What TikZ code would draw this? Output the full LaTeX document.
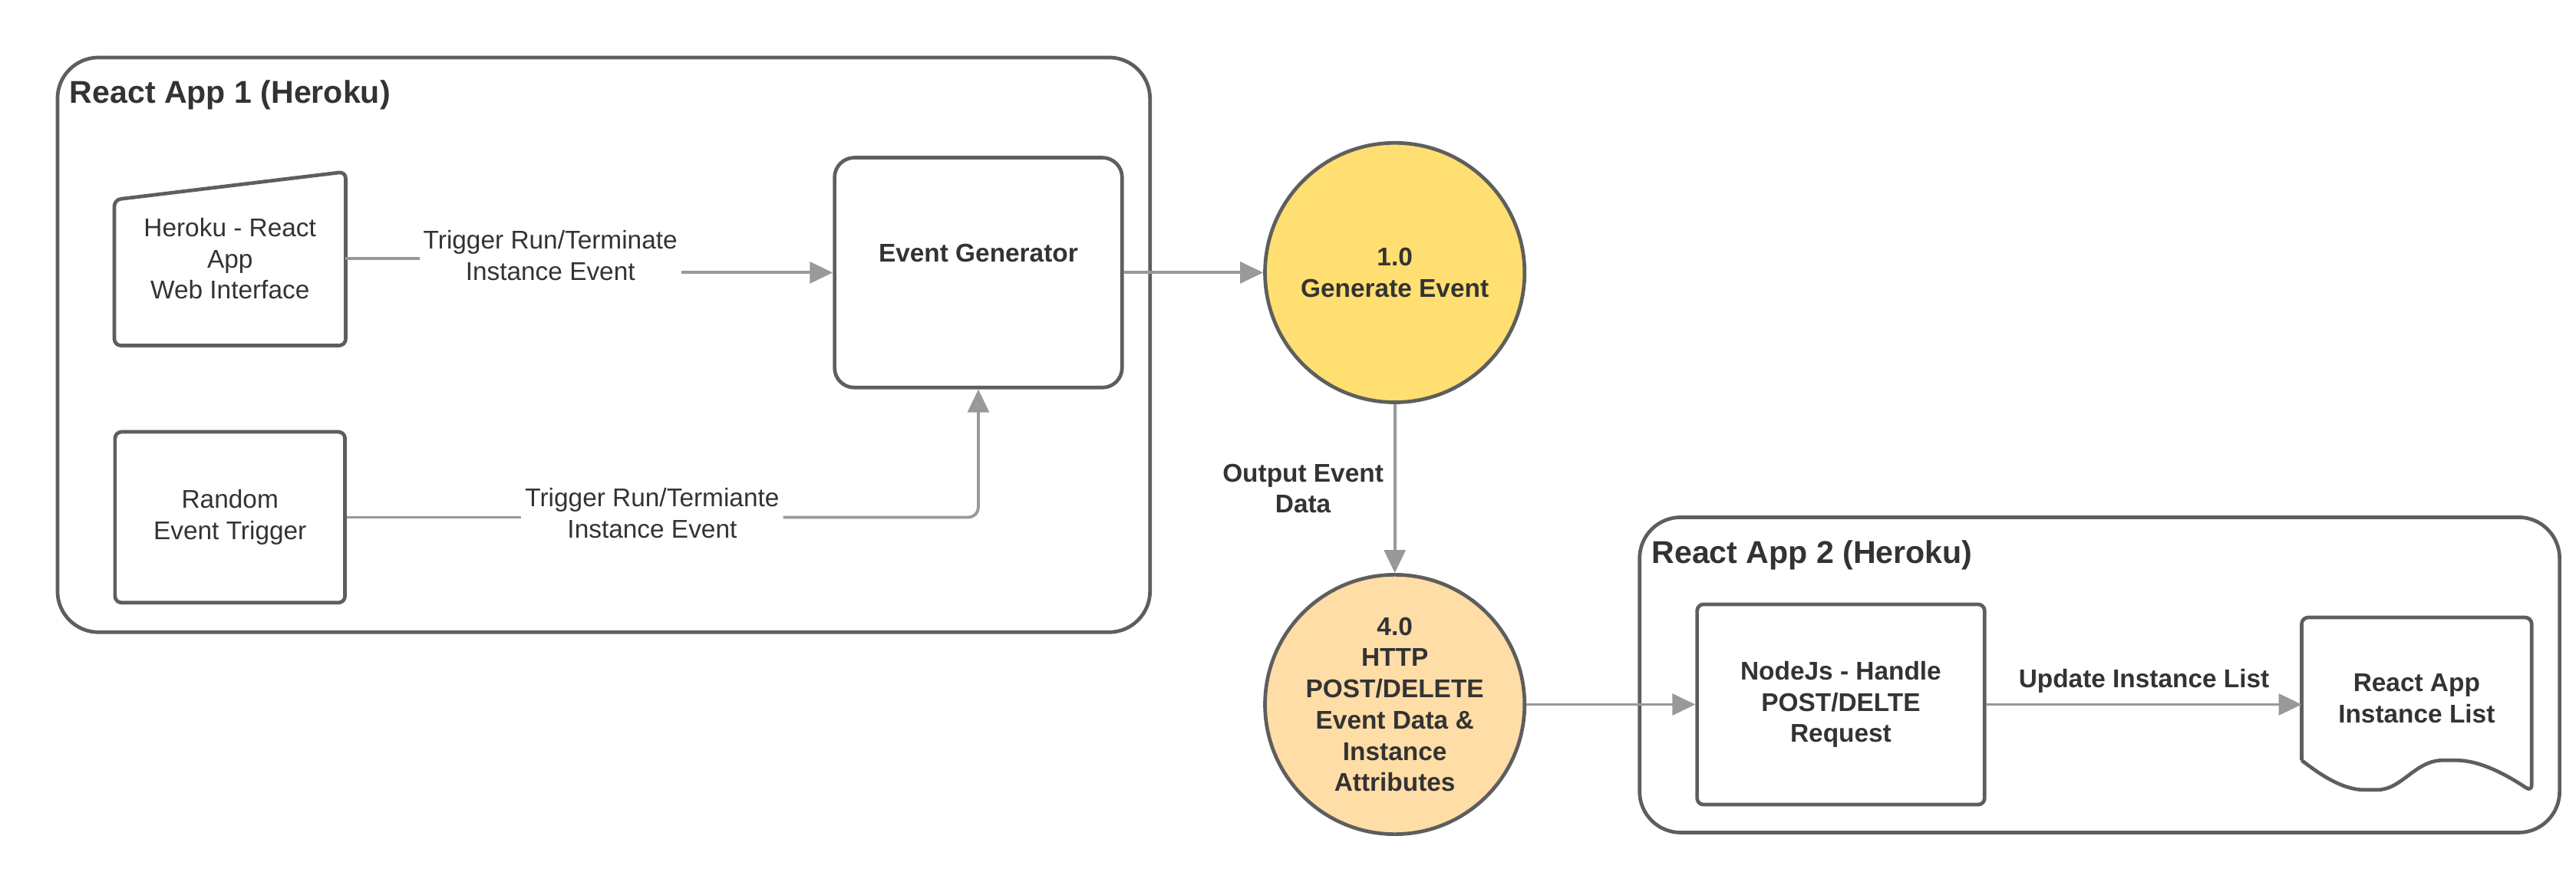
\documentclass[tikz,border=0pt]{standalone}
\usepackage{fontspec}
\setmainfont{Liberation Sans}
\usetikzlibrary{arrows.meta}
\usetikzlibrary{positioning}
\definecolor{edgegray}{HTML}{5E5E5E}
\definecolor{arrowgray}{HTML}{999999}
\definecolor{textgray}{HTML}{333333}
\definecolor{procyellow}{HTML}{FFDF71}
\definecolor{procorange}{HTML}{FFDDA6}
\tikzset{
  bodyfont/.style={font=\fontsize{7.8}{9.5}\selectfont},
  boldfont/.style={font=\bfseries\fontsize{7.8}{9.5}\selectfont},
  box/.style={draw=edgegray, line width=1.1pt, rounded corners=2pt, align=center, text=textgray},
  proc/.style={circle, draw=edgegray, line width=1.1pt, minimum size=79pt, inner sep=0pt, align=center, text=textgray, boldfont},
  group/.style={draw=edgegray, line width=1.1pt, rounded corners=12.5pt},
  grouptitle/.style={anchor=west, inner sep=2pt, text=textgray, font=\bfseries\fontsize{9.6}{11}\selectfont},
  lbl/.style={inner sep=1pt, align=center, text=textgray},
  line/.style={draw=arrowgray, line width=0.9pt},
  flow/.style={line, -{Triangle[length=7pt,width=6.5pt]}},
}
\begin{document}
\begin{tikzpicture}[x=0.5pt, y=-0.5pt, bodyfont]
    \useasboundingbox (0,0) rectangle (1568,543.2);
    % React App 1
    \draw[group] (35,35) rectangle (700,385);
    \node[grouptitle] (title1) at (38,58) {React App 1 (Heroku)};
    \node[minimum width=70pt, minimum height=52.5pt, align=center, text=textgray] (heroku) at (140,157.5) {Heroku - React\\App\\Web Interface};
    \draw[box] (heroku.south west) -- ([yshift=-8.5pt]heroku.north west) -- (heroku.north east) -- (heroku.south east) -- cycle;
    \node[box, minimum width=70pt, minimum height=52pt] (random) at (140,315) {Random\\Event Trigger};
    \node[box, rounded corners=6pt, minimum width=87.5pt, minimum height=70pt,
          label={[lbl, boldfont, yshift=6pt]center:Event Generator}] (evgen) at (595.5,166) {};
    % processes
    \node[proc, fill=procyellow] (gen) at (849,166) {1.0\\Generate Event};
    \node[proc, fill=procorange] (http) at (849,429) {4.0\\HTTP\\POST/DELETE\\Event Data \&\\Instance\\Attributes};
    % React App 2
    \draw[group] (998,315) rectangle (1558,507);
    \node[grouptitle] (title2) at (1001,338) {React App 2 (Heroku)};
    \node[box, minimum width=87.5pt, minimum height=61pt, boldfont] (nodejs) at (1120.5,429) {NodeJs - Handle\\POST/DELTE\\Request};
    \node[minimum width=70pt, minimum height=53pt, align=center, text=textgray, boldfont] (list) at (1471,425.5) {React App\\Instance List};
    \draw[box] (1401,463) -- (1401,376) -- (1541,376) -- (1541,482)
        .. controls (1520,468) and (1506,463) .. (1491,463)
        .. controls (1470,463) and (1462,481) .. (1443,481)
        .. controls (1425,481) and (1410,470) .. (1401,463);
    % connectors
    \node[lbl] (trig1) at (335,155.5) {Trigger Run/Terminate\\Instance Event};
    \draw[line] (heroku.east) -- (heroku.east -| trig1.west);
    \draw[flow] (trig1.east |- evgen.west) -- (evgen.west);
    \node[lbl] (trig2) at (397,312.5) {Trigger Run/Termiante\\Instance Event};
    \draw[line] (random.east) -- (random.east -| trig2.west);
    \draw[flow, rounded corners=3pt] (trig2.east |- random.east) -| (evgen.south);
    \draw[flow] (evgen.east) -- (gen.west);
    \draw[flow] (gen.south) -- node[lbl, left=2pt, boldfont] (outdata) {Output Event\\Data} (http.north);
    \draw[flow] (http.east) -- (nodejs.west);
    \draw[flow] (nodejs.east) -- node[lbl, above=2pt, boldfont] (update) {Update Instance List} (nodejs.east -| {(1401,0)});
\end{tikzpicture}
\end{document}
